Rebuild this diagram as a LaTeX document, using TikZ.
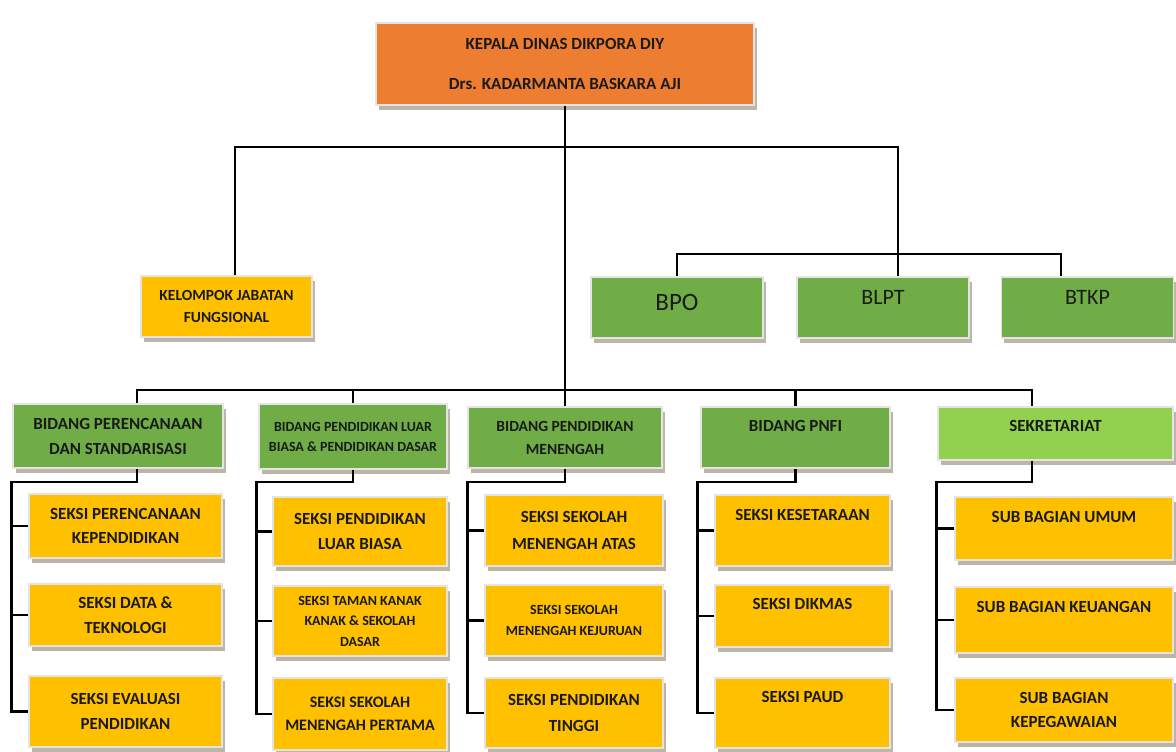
\documentclass[tikz,border=0pt]{standalone}
\usepackage{fontspec}
\setmainfont{Carlito}
\usepackage{tikz}
\usetikzlibrary{shadows}

\definecolor{ink}{HTML}{1A1A1A}
\definecolor{kepalaorange}{HTML}{ED7D31}
\definecolor{bidanggreen}{HTML}{70AD47}
\definecolor{sekretgreen}{HTML}{92D050}
\definecolor{seksigold}{HTML}{FFC000}
\definecolor{boxedge}{HTML}{E4E4E4}
\definecolor{boxshade}{HTML}{BDB6A8}

\begin{document}
\begin{tikzpicture}[x=1pt, y=-1pt,
    box/.style={rectangle, inner sep=0pt, align=center, text=ink, draw=boxedge, line width=1.2pt,
        general shadow={fill=boxshade, shadow xshift=2.5pt, shadow yshift=-5pt}},
    seksi/.style={box, fill=seksigold, font=\bfseries\fontsize{17}{24.5}\selectfont},
    seksismall/.style={seksi, font=\bfseries\fontsize{14}{20.5}\selectfont},
    bidang/.style={box, fill=bidanggreen, font=\bfseries\fontsize{17}{25}\selectfont},
    balai/.style={box, fill=bidanggreen, minimum width=172pt, minimum height=61pt, font=\fontsize{22}{26}\selectfont},
    liftup/.style={text depth=#1},
    link/.style={draw=black, line width=2.4pt}]
    \useasboundingbox (0,0) rectangle (1176,752);

    \node [box, fill=kepalaorange, minimum width=378pt, minimum height=82pt, font=\bfseries\fontsize{17}{40}\selectfont] (kepala) at (565,64) {KEPALA DINAS DIKPORA DIY\\Drs. KADARMANTA BASKARA AJI};

    \node [seksi, minimum width=171pt, minimum height=61pt, font=\bfseries\fontsize{15.5}{22}\selectfont] (kelompok) at (226.5,306.5) {KELOMPOK JABATAN\\FUNGSIONAL};
    \node [balai, font=\fontsize{25}{30}\selectfont, liftup=11pt] (bpo) at (677,307.5) {BPO};
    \node [balai, liftup=20pt] (blpt) at (883,307.5) {BLPT};
    \node [balai, liftup=20pt] (btkp) at (1087.5,307.5) {BTKP};

    \node [bidang, minimum width=210pt, minimum height=64pt] (perencanaan) at (118,436) {BIDANG PERENCANAAN\\DAN STANDARISASI};
    \node [bidang, minimum width=188pt, minimum height=65pt, font=\bfseries\fontsize{14}{20}\selectfont] (plbdasar) at (353,436.5) {BIDANG PENDIDIKAN LUAR\\BIASA \& PENDIDIKAN DASAR};
    \node [bidang, minimum width=194pt, minimum height=61pt, font=\bfseries\fontsize{15.5}{23}\selectfont] (menengah) at (565,437.5) {BIDANG PENDIDIKAN\\MENENGAH};
    \node [bidang, minimum width=189pt, minimum height=61pt, liftup=23pt] (pnfi) at (795.5,437.5) {BIDANG PNFI};
    \node [bidang, fill=sekretgreen, minimum width=235pt, minimum height=53pt, liftup=15pt] (sekretariat) at (1055.5,433.5) {SEKRETARIAT};

    \node [seksi, minimum width=193pt, minimum height=64pt] (seksiperencanaan) at (125.5,526) {SEKSI PERENCANAAN\\KEPENDIDIKAN};
    \node [seksi, minimum width=193pt, minimum height=62pt] (seksidata) at (125.5,615) {SEKSI DATA \&\\TEKNOLOGI};
    \node [seksi, minimum width=193pt, minimum height=71pt] (seksievaluasi) at (125.5,711.5) {SEKSI EVALUASI\\PENDIDIKAN};

    \node [seksi, minimum width=174pt, minimum height=69pt] (seksiplb) at (360,531.5) {SEKSI PENDIDIKAN\\LUAR BIASA};
    \node [seksismall, minimum width=174pt, minimum height=70pt] (seksitksd) at (360,621) {SEKSI TAMAN KANAK\\KANAK \& SEKOLAH\\DASAR};
    \node [seksi, minimum width=174pt, minimum height=72pt, font=\bfseries\fontsize{16}{23}\selectfont] (seksismp) at (360,714) {SEKSI SEKOLAH\\MENENGAH PERTAMA};

    \node [seksi, minimum width=178pt, minimum height=71pt, font=\bfseries\fontsize{17}{27}\selectfont] (seksisma) at (574,530.5) {SEKSI SEKOLAH\\MENENGAH ATAS};
    \node [seksismall, minimum width=178pt, minimum height=71pt] (seksismk) at (574,620.5) {SEKSI SEKOLAH\\MENENGAH KEJURUAN};
    \node [seksi, minimum width=178pt, minimum height=70pt, font=\bfseries\fontsize{17}{26}\selectfont] (seksipt) at (574,713) {SEKSI PENDIDIKAN\\TINGGI};

    \node [seksi, minimum width=175pt, minimum height=71pt, liftup=31pt] (seksikesetaraan) at (802.5,530.5) {SEKSI KESETARAAN};
    \node [seksi, minimum width=175pt, minimum height=62pt, liftup=24pt] (seksidikmas) at (802.5,616) {SEKSI DIKMAS};
    \node [seksi, minimum width=175pt, minimum height=70pt, liftup=32pt] (seksipaud) at (802.5,713) {SEKSI PAUD};

    \node [seksi, minimum width=218pt, minimum height=63pt, liftup=23pt] (subumum) at (1064,528.5) {SUB BAGIAN UMUM};
    \node [seksi, minimum width=218pt, minimum height=66pt, liftup=26pt] (subkeuangan) at (1064,620) {SUB BAGIAN KEUANGAN};
    \node [seksi, minimum width=218pt, minimum height=64pt] (subkepegawaian) at (1064,710) {SUB BAGIAN\\KEPEGAWAIAN};

    \coordinate (topbar) at (0,147);
    \coordinate (midbar) at (0,254);
    \coordinate (lowbar) at (0,390);
    \coordinate (subbar) at (0,482);

    \draw [link] (kepala.south) -- (menengah.north);
    \draw [link] ([xshift=8.5pt]kelompok.north) |- ([xshift=15pt]blpt.north |- topbar) -- ([xshift=15pt]blpt.north);
    \draw [link] (bpo.north) |- ([xshift=-26.5pt]btkp.north |- midbar) -- ([xshift=-26.5pt]btkp.north);
    \draw [link] ([xshift=19pt]perencanaan.north) |- ([xshift=-23.5pt]sekretariat.north |- lowbar) -- ([xshift=-23.5pt]sekretariat.north);
    \draw [link] (plbdasar.north) -- (plbdasar.north |- lowbar);
    \draw [link] (pnfi.north) -- (pnfi.north |- lowbar);

    \draw [link] ([xshift=19pt]perencanaan.south) |- ([xshift=-17pt]seksiperencanaan.west |- subbar) |- (seksievaluasi.west);
    \draw [link] (seksiperencanaan.west) -- ++(-17,0);
    \draw [link] (seksidata.west) -- ++(-17,0);

    \draw [link] (plbdasar.south) |- ([xshift=-16pt]seksiplb.west |- subbar) |- (seksismp.west);
    \draw [link] (seksiplb.west) -- ++(-16,0);
    \draw [link] (seksitksd.west) -- ++(-16,0);

    \draw [link] (menengah.south) |- ([xshift=-17pt]seksisma.west |- subbar) |- (seksipt.west);
    \draw [link] (seksisma.west) -- ++(-17,0);
    \draw [link] (seksismk.west) -- ++(-17,0);

    \draw [link] (pnfi.south) |- ([xshift=-17pt]seksikesetaraan.west |- subbar) |- (seksipaud.west);
    \draw [link] (seksikesetaraan.west) -- ++(-17,0);
    \draw [link] (seksidikmas.west) -- ++(-17,0);

    \draw [link] ([xshift=-23.5pt]sekretariat.south) |- ([xshift=-18pt]subumum.west |- subbar) |- (subkepegawaian.west);
    \draw [link] (subumum.west) -- ++(-18,0);
    \draw [link] (subkeuangan.west) -- ++(-18,0);
\end{tikzpicture}
\end{document}
